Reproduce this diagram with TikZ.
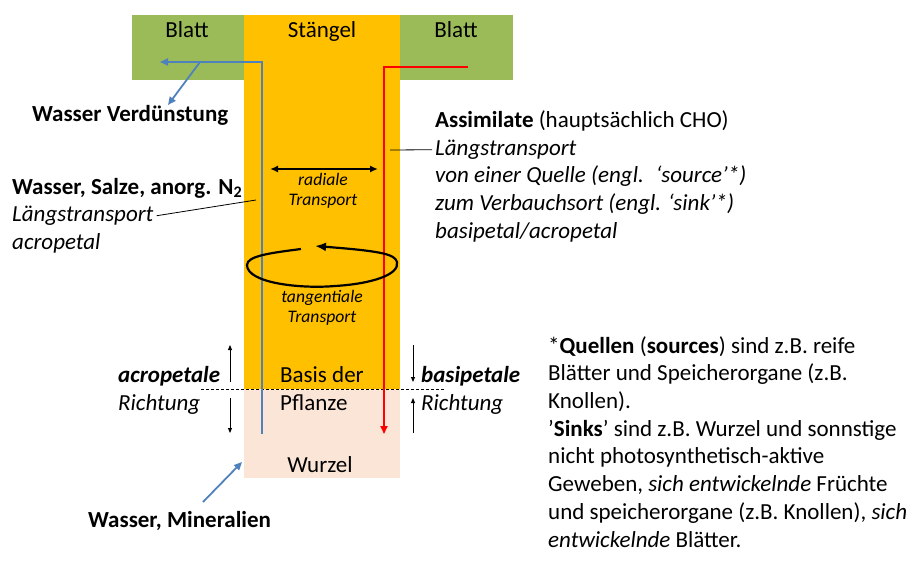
\documentclass[tikz,border=0pt]{standalone}
\usepackage{fontspec}
\setmainfont{Carlito}
\usetikzlibrary{arrows.meta,positioning}
\definecolor{leafgreen}{HTML}{9BBB59}
\definecolor{stemorange}{HTML}{FFC000}
\definecolor{rootpeach}{HTML}{FBE5D6}
\definecolor{waterblue}{HTML}{4F81BD}
\newcommand{\bigtxt}{\fontsize{23}{27.7}\selectfont}
\newcommand{\smalltxt}{\fontsize{17.6}{20.5}\selectfont\itshape}

\begin{document}
\begin{tikzpicture}[x=1pt, y=-1pt,
  font=\bigtxt,
  part/.style={inner sep=0pt, outer sep=0pt, anchor=north west},
  txt/.style={inner sep=0pt, align=left, anchor=base west},
  ctr/.style={inner sep=0pt, anchor=base},
  small/.style={inner sep=0pt, align=center, font=\smalltxt},
  water/.style={draw=waterblue, line width=1.8pt},
  sugar/.style={draw=red, line width=1.8pt},
  tip/.style={-{Triangle[length=8pt, width=7pt]}},
  dirarrow/.style={-{Triangle[length=5pt, width=4pt]}, line width=0.9pt},
  radarrow/.style={{Latex[length=8pt, width=7pt]}-{Latex[length=8pt, width=7pt]}, line width=1.8pt},
  tangarrow/.style={-{Latex[length=11pt, width=9pt]}, line width=2.2pt}
]
\useasboundingbox (0,0) rectangle (920,564);

% plant parts
\node[part, fill=leafgreen, minimum width=113pt, minimum height=65pt] (leafL) at (132,15) {};
\node[part, fill=stemorange, minimum width=156pt, minimum height=374pt] (stem) at (244,15) {};
\node[part, fill=leafgreen, minimum width=113pt, minimum height=65pt] (leafR) at (400,15) {};
\node[part, fill=rootpeach, minimum width=156pt, minimum height=89pt, below=0pt of stem] (root) {};
\node[ctr] (blattL) at (187,38) {Blatt};
\node[ctr] (stengel) at (322,38) {Stängel};
\node[ctr] (blattR) at (456,38) {Blatt};
\node[txt] (basis) at (280,410) {Basis der\\Pflanze};
\node[ctr] (wurzel) at (320,472) {Wurzel};

% base of plant
\coordinate (baseL) at (201,389);
\coordinate (baseR) at (445,389);
\draw[dashed, line width=0.8pt, dash pattern=on 3pt off 2pt] (baseL) -- (baseR);

% water (blue) and assimilates (red)
\coordinate (xylemBot) at (262,434);
\coordinate (xylemTip) at (160,62);
\coordinate (verdFork) at (200,62);
\coordinate (verdTip) at (168,105);
\draw[water, tip] (xylemBot) |- (xylemTip);
\draw[water, tip] (verdFork) -- (verdTip);
\coordinate (phloemTop) at (468,67);
\coordinate (phloemTip) at (384,434);
\draw[sugar, tip] (phloemTop) -| (phloemTip);
\coordinate (minTail) at (203,502);
\coordinate (minTip) at (242,462);
\draw[water, tip] (minTail) -- (minTip);

% radial / tangential
\coordinate (radL) at (270,169);
\coordinate (radR) at (378,169);
\draw[radarrow] (radL) -- (radR);
\node[small] (radial) at (323,191) {radiale\\Transport};
\draw[tangarrow] (301,249) .. controls (270,253) and (247,256) .. (247,265)
  .. controls (247,283) and (300,289) .. (335,286)
  .. controls (370,284) and (400,275) .. (397,262)
  .. controls (395,254) and (380,251) .. (315,246);
\node[small] (tang) at (322,308) {tangentiale\\Transport};

% left labels
\node[txt, font=\bigtxt\bfseries] (verd) at (32,122) {Wasser Verdünstung};
\node[txt, font=\bigtxt\bfseries] (xylemHead) at (12,194) {Wasser, Salze, anorg. N\textsubscript{2}};
\node[txt, font=\bigtxt\itshape] (xylemLong) at (12,221.5) {Längstransport};
\node[txt, font=\bigtxt\itshape] (xylemAcro) at (12,249) {acropetal};
\coordinate (xylemHit) at (256,200);
\draw[line width=0.8pt] ([xshift=3pt]xylemLong.east) -- (xylemHit);
\node[txt, font=\bigtxt\bfseries] (mineral) at (88,527) {Wasser, Mineralien};

% right labels
\node[txt] (assimHead) at (435,128) {\textbf{Assimilate} (hauptsächlich CHO)};
\node[txt, font=\bigtxt\itshape] (assimLong) at (435,155.5) {Längstransport};
\node[txt, font=\bigtxt\itshape] (assimTxt) at (435,238) {von einer Quelle (engl.~ ‘source’*)\\zum Verbauchsort (engl. ‘sink’*)\\basipetal/acropetal};
\coordinate (phloemHit) at (390,150);
\draw[line width=0.8pt] (phloemHit) -- ([xshift=-3pt]assimLong.west);

% directions
\node[txt] (acro) at (118,410) {\textbf{\textit{acropetale}}\\\textit{Richtung}};
\node[txt] (basi) at (421,410) {\textbf{\textit{basipetale}}\\\textit{Richtung}};
\foreach \x/\a/\b in {230/382/345, 230/398/433, 413/345/382, 413/433/398}
  \draw[dirarrow] (\x,\a) -- (\x,\b);

% footnote
\node[txt] (note) at (548,547) {*\textbf{Quellen} (\textbf{sources}) sind z.B. reife\\Blätter und Speicherorgane (z.B.\\Knollen).\\’\textbf{Sinks}’ sind z.B. Wurzel und sonnstige\\nicht photosynthetisch-aktive\\Geweben, \textit{sich entwickelnde} Früchte\\und speicherorgane (z.B. Knollen), \textit{sich}\\\textit{entwickelnde} Blätter.};
\end{tikzpicture}
\end{document}
